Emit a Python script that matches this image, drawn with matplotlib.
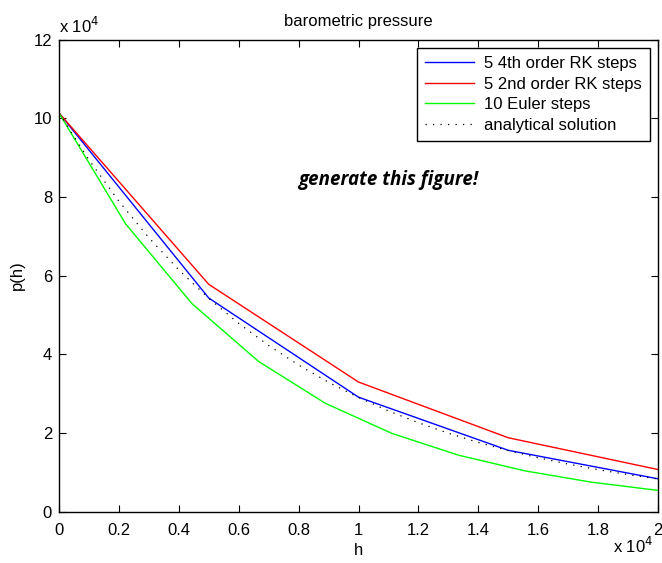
import matplotlib.pyplot as plt
import numpy as np

plt.rcParams['font.family'] = ['Liberation Sans', 'DejaVu Sans']

# 5 4th order RK steps
h_rk = [0, 5000, 10000, 15000, 20000]
p_rk4 = [101325, 54308, 29108, 15601, 8362]
# 5 2nd order RK steps
p_rk2 = [101325, 57787, 32956, 18795, 10719]
# 10 Euler steps
h_euler = [0, 2222, 4444, 6667, 8889, 11111, 13333, 15556, 17778, 20000]
p_euler = [101325, 73179, 52852, 38171, 27568, 19910, 14379, 10385, 7500, 5417]
# analytical solution
h_exact = [0, 1000, 2000, 3000, 4000, 5000, 6000, 7000, 8000, 9000, 10000,
           11000, 12000, 13000, 14000, 15000, 16000, 17000, 18000, 19000, 20000]
p_exact = [101325, 89419, 78912, 69640, 61457, 54236, 47862, 42239, 37276, 32895,
           29030, 25619, 22609, 19952, 17608, 15539, 13713, 12102, 10680, 9425, 8317]

xticks = [0, 2000, 4000, 6000, 8000, 10000, 12000, 14000, 16000, 18000, 20000]
xticklabels = ['0', '0.2', '0.4', '0.6', '0.8', '1', '1.2', '1.4', '1.6', '1.8', '2']
yticks = [0, 20000, 40000, 60000, 80000, 100000, 120000]
yticklabels = ['0', '2', '4', '6', '8', '10', '12']

fig = plt.figure(figsize=(6.62, 5.63), dpi=100)
ax = fig.add_axes([0.0891, 0.0911, 0.9049, 0.8387])

ax.plot(h_rk, p_rk4, color=(0, 0, 1), linewidth=1, label='5 4th order RK steps')
ax.plot(h_rk, p_rk2, color=(1, 0, 0), linewidth=1, label='5 2nd order RK steps')
ax.plot(h_euler, p_euler, color=(0, 1, 0), linewidth=1, label='10 Euler steps')
ax.plot(h_exact, p_exact, color='k', linestyle=(0, (1, 5)), linewidth=0.9,
        label='analytical solution')

ax.set_xlim(0, 20000)
ax.set_ylim(0, 120000)
ax.set_xticks(xticks)
ax.set_xticklabels(xticklabels)
ax.set_yticks(yticks)
ax.set_yticklabels(yticklabels)
ax.tick_params(direction='in', length=5, top=True, right=True, labelsize=12)
ax.tick_params(axis='x', pad=8)
ax.tick_params(axis='y', pad=5)
for s in ax.spines.values():
    s.set_linewidth(1)

ax.set_xlabel('h', fontsize=12, labelpad=4)
ax.set_ylabel('p(h)', fontsize=12, labelpad=6)
ax.set_title('barometric pressure', fontsize=12, pad=10)

fig.text(0.0891, 0.936, r'x 10$^4$', fontsize=12, ha='left', va='bottom')
fig.text(0.987, 0.013, r'x 10$^4$', fontsize=12, ha='right', va='bottom')

ax.text(11000, 84300, 'generate this figure!', fontsize=13.5, family='Open Sans',
        fontweight='bold', fontstyle='italic', ha='center', va='center')

leg = ax.legend(loc='upper right', fontsize=12, fancybox=False, framealpha=1,
                edgecolor='k', borderaxespad=0.5, handlelength=2.9,
                handletextpad=0.6, labelspacing=0.33, borderpad=0.5)
leg.get_frame().set_linewidth(1)

fig.savefig('out.png', dpi=100)
